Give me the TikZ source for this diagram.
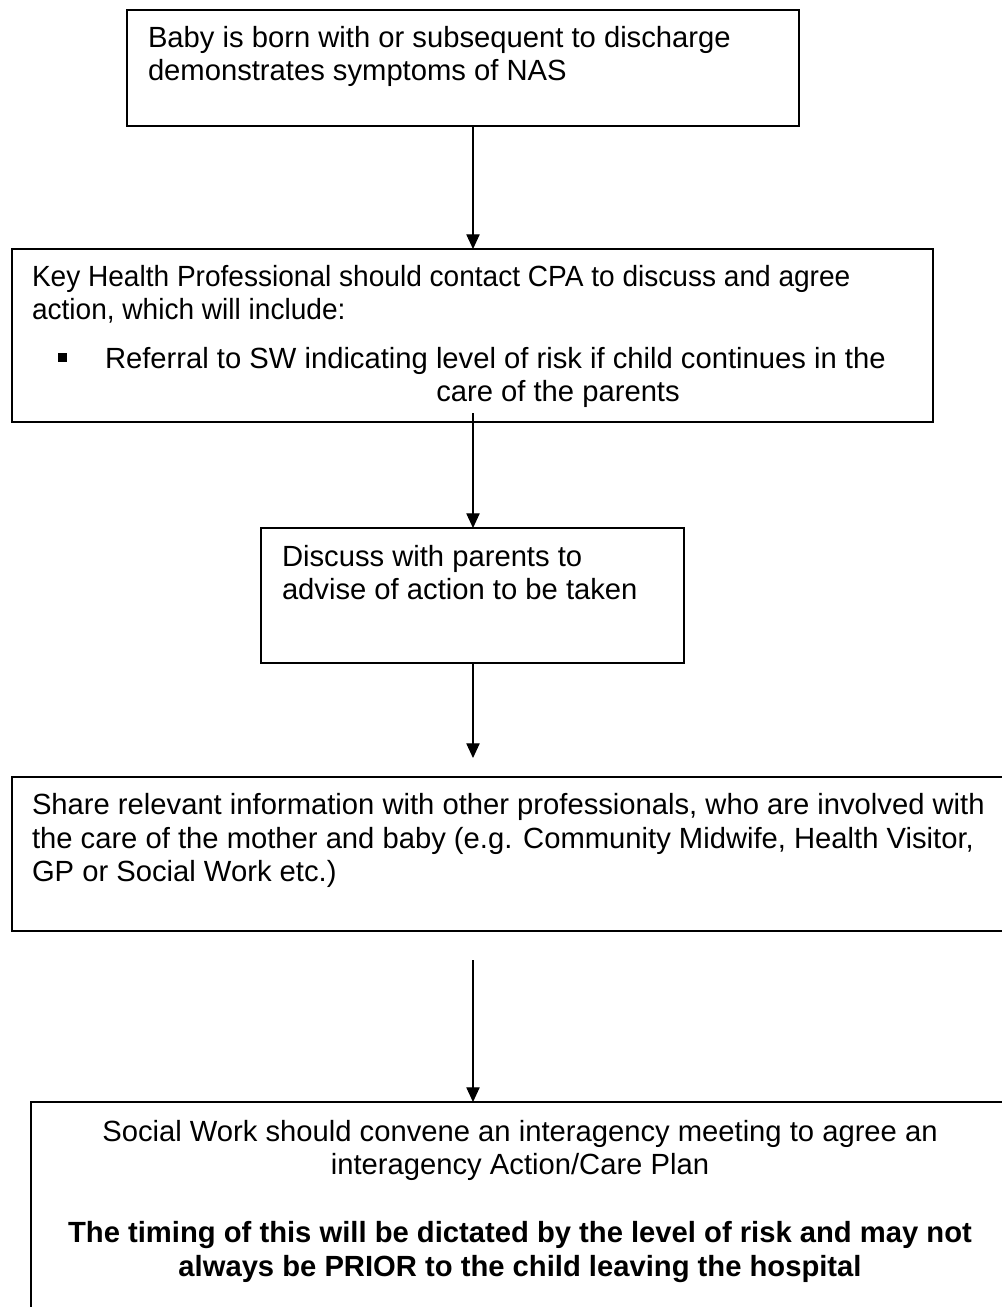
\documentclass[tikz,border=0pt]{standalone}
\usepackage{fontspec}
\setmainfont{Liberation Sans}
\usetikzlibrary{arrows.meta,calc}
\tikzset{
  box/.style={draw=black, line width=1.1pt, inner sep=0pt, outer sep=0pt, anchor=north west},
  txt/.style={inner sep=0pt, outer sep=0pt, font=\fontsize{21.9}{25.1}\selectfont, text=black},
  ctr/.style={txt, anchor=base},
  lft/.style={txt, anchor=base west},
  arr/.style={draw=black, line width=0.8pt, -{Triangle[length=11pt,width=10pt]}}
}
\begin{document}
\begin{tikzpicture}[x=0.75pt,y=-0.75pt]
\useasboundingbox (0,0) rectangle (1002,1307);
\clip (0,0) rectangle (1002,1307);
\fill[white] (0,0) rectangle (1002,1307);
\coordinate (ax) at (473,0);

% boxes
\node[box, minimum width=504pt, minimum height=87pt] (b1) at (127,10) {};
\node[box, minimum width=690.75pt, minimum height=129.75pt] (b2) at (12,249) {};
\node[box, minimum width=317.25pt, minimum height=101.25pt] (b3) at (261,528) {};
\node[box, minimum width=750pt, minimum height=115.5pt] (b4) at (12,777) {};
\node[box, minimum width=735.75pt, minimum height=172.5pt] (b5) at (31,1102) {};

% texts
\node[lft] (t1a) at (148,47) {Baby is born with or subsequent to discharge};
\node[lft] (t1b) at (148,80) {demonstrates symptoms of NAS};

\node[lft] (t2a) at (32,286) {\scalebox{0.961}[1]{Key Health Professional should contact CPA to discuss and agree}};
\node[lft] (t2b) at (32,319) {\scalebox{0.961}[1]{action, which will include:}};
\fill[black] (58,353) rectangle (67,362);
\node[lft] (t2c) at (105,368) {Referral to SW indicating level of risk if child continues in the};
\node[ctr] (t2d) at (558,401) {care of the parents};

\node[lft] (t3a) at (282,566) {Discuss with parents to};
\node[lft] (t3b) at (282,599) {advise of action to be taken};

\node[lft] (t4a) at (32,814) {Share relevant information with other professionals, who are involved with};
\node[lft] (t4b) at (32,848) {the care of the mother and baby (e.g. Community Midwife, Health Visitor,};
\node[lft] (t4c) at (32,881) {GP or Social Work etc.)};

\node[ctr] (t5a) at (520,1141) {Social Work should convene an interagency meeting to agree an};
\node[ctr] (t5b) at (520,1174) {interagency Action/Care Plan};
\node[ctr, font=\fontsize{21.9}{25.1}\selectfont\bfseries] (t5c) at (520,1242) {The timing of this will be dictated by the level of risk and may not};
\node[ctr, font=\fontsize{21.9}{25.1}\selectfont\bfseries] (t5d) at (520,1276) {always be PRIOR to the child leaving the hospital};

% connectors
\draw[arr] (b1.south -| ax) -- (b2.north -| ax);
\draw[arr] ($(b2.south -| ax)+(0,-9)$) -- (b3.north -| ax);
\draw[arr] (b3.south -| ax) -- ($(b4.north -| ax)+(0,-19)$);
\draw[arr] ($(b4.south -| ax)+(0,29)$) -- (b5.north -| ax);
\end{tikzpicture}
\end{document}
